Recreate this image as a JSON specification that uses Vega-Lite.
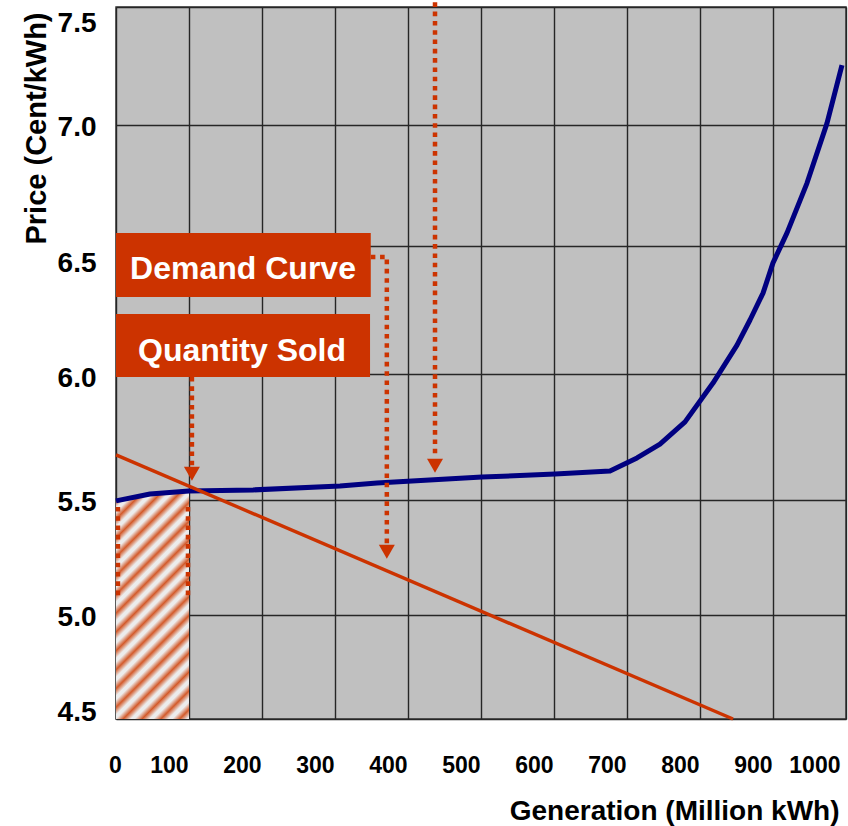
{
  "$schema": "https://vega.github.io/schema/vega-lite/v6.json",
  "width": 730,
  "height": 712,
  "autosize": "none",
  "padding": {"left": 116, "top": 7, "right": 2, "bottom": 107},
  "background": "#FFFFFF",
  "config": {
    "view": {"fill": "#C0C0C0", "stroke": "#3A3A3A", "strokeWidth": 1.5},
    "font": "Liberation Sans"
  },
  "datasets": {
    "supply": [
      {"gen": 0, "price": 5.496},
      {"gen": 46.6, "price": 5.524},
      {"gen": 100, "price": 5.536},
      {"gen": 187.7, "price": 5.54},
      {"gen": 306.8, "price": 5.556},
      {"gen": 357.5, "price": 5.567},
      {"gen": 501.4, "price": 5.591},
      {"gen": 601.4, "price": 5.603},
      {"gen": 676.7, "price": 5.615},
      {"gen": 713.7, "price": 5.667},
      {"gen": 745.2, "price": 5.722},
      {"gen": 779.5, "price": 5.81},
      {"gen": 817.8, "price": 5.964},
      {"gen": 850.7, "price": 6.113},
      {"gen": 868.5, "price": 6.211},
      {"gen": 886.3, "price": 6.316},
      {"gen": 900, "price": 6.434},
      {"gen": 919.2, "price": 6.554},
      {"gen": 946.6, "price": 6.76},
      {"gen": 974, "price": 7.008},
      {"gen": 994.5, "price": 7.254}
    ],
    "demand": [
      {"gen": 0, "price": 5.679},
      {"gen": 845.2, "price": 4.5}
    ],
    "sold": [
      {"gen": 0, "price": 5.496},
      {"gen": 46.6, "price": 5.524},
      {"gen": 100, "price": 5.536}
    ],
    "guides": [
      {"seg": "a", "gen": 437, "price": 7.52},
      {"seg": "a", "gen": 437, "price": 5.667},
      {"seg": "b", "gen": 349, "price": 6.457},
      {"seg": "b", "gen": 371, "price": 6.457},
      {"seg": "b", "gen": 371, "price": 5.296},
      {"seg": "c", "gen": 104, "price": 5.988},
      {"seg": "c", "gen": 104, "price": 5.635},
      {"seg": "d", "gen": 2.7, "price": 5.47},
      {"seg": "d", "gen": 2.7, "price": 5.065},
      {"seg": "e", "gen": 98.6, "price": 5.47},
      {"seg": "e", "gen": 98.6, "price": 5.065}
    ],
    "arrows": [
      {"gen": 437, "price": 5.636},
      {"gen": 371, "price": 5.275},
      {"gen": 104, "price": 5.604}
    ],
    "boxes": [
      {"label": "Demand Curve", "gen": 0, "gen2": 349, "price": 6.554, "price2": 6.301, "textGen": 174, "textPrice": 6.371},
      {"label": "Quantity Sold", "gen": 0, "gen2": 348, "price": 6.234, "price2": 5.988, "textGen": 172.6, "textPrice": 6.051}
    ]
  },
  "encoding": {
    "x": {
      "field": "gen",
      "type": "quantitative",
      "scale": {"domain": [0, 1000], "nice": false, "zero": false},
      "axis": {
        "values": [0, 100, 200, 300, 400, 500, 600, 700, 800, 900, 1000],
        "format": "d",
        "title": "Generation (Million kWh)",
        "grid": true,
        "gridColor": "#262626",
        "gridWidth": 1.4,
        "domain": false,
        "ticks": false,
        "labelFont": "Liberation Sans",
        "labelFontSize": 23,
        "labelFontWeight": "bold",
        "labelColor": "#000000",
        "labelPadding": 35,
        "labelFlush": false,
        "labelOverlap": false,
        "labelAlign": {"condition": {"test": "datum.value === 0", "value": "center"}, "value": "right"},
        "labelOffset": {"condition": {"test": "datum.value === 1000", "value": -6}, "value": -1},
        "titleFont": "Liberation Sans",
        "titleFontSize": 28,
        "titleFontWeight": "bold",
        "titleColor": "#000000",
        "titleAnchor": "end",
        "titleAlign": "right",
        "titleBaseline": "alphabetic",
        "titleX": 723,
        "titleY": 100
      }
    },
    "y": {
      "field": "price",
      "type": "quantitative",
      "scale": {
        "domain": [4.5, 5, 5.5, 6, 6.5, 7, 7.5],
        "range": [712, 608, 493, 367, 239, 118, 0]
      },
      "axis": {
        "values": [4.5, 5, 5.5, 6, 6.5, 7, 7.5],
        "format": ".1f",
        "title": "Price (Cent/kWh)",
        "grid": true,
        "gridColor": "#262626",
        "gridWidth": 1.4,
        "domain": false,
        "ticks": false,
        "labelFont": "Liberation Sans",
        "labelFontSize": 28,
        "labelFontWeight": "bold",
        "labelColor": "#000000",
        "labelPadding": 20,
        "labelFlush": false,
        "labelOverlap": false,
        "labelOffset": {
          "condition": [
            {"test": "datum.value === 7.5", "value": 16},
            {"test": "datum.value === 6.5", "value": 17},
            {"test": "datum.value === 6", "value": 4},
            {"test": "datum.value === 4.5", "value": -7}
          ],
          "value": 2
        },
        "titleFont": "Liberation Sans",
        "titleFontSize": 29,
        "titleFontWeight": "bold",
        "titleColor": "#000000",
        "titleAnchor": "end",
        "titleAlign": "right",
        "titleBaseline": "middle",
        "titleX": -80,
        "titleY": 5
      }
    }
  },
  "layer": [
    {
      "data": {"name": "sold"},
      "mark": {
        "type": "area",
        "fill": {
          "gradient": "linear",
          "x1": 0, "y1": 0, "x2": 0.3834, "y2": 1.1974,
          "stops": [
            {"offset": 0.00625, "color": "#ECECEC"}, {"offset": 0.03125, "color": "#D35A2A"}, {"offset": 0.05625, "color": "#ECECEC"},
            {"offset": 0.06875, "color": "#ECECEC"}, {"offset": 0.09375, "color": "#D35A2A"}, {"offset": 0.11875, "color": "#ECECEC"},
            {"offset": 0.13125, "color": "#ECECEC"}, {"offset": 0.15625, "color": "#D35A2A"}, {"offset": 0.18125, "color": "#ECECEC"},
            {"offset": 0.19375, "color": "#ECECEC"}, {"offset": 0.21875, "color": "#D35A2A"}, {"offset": 0.24375, "color": "#ECECEC"},
            {"offset": 0.25625, "color": "#ECECEC"}, {"offset": 0.28125, "color": "#D35A2A"}, {"offset": 0.30625, "color": "#ECECEC"},
            {"offset": 0.31875, "color": "#ECECEC"}, {"offset": 0.34375, "color": "#D35A2A"}, {"offset": 0.36875, "color": "#ECECEC"},
            {"offset": 0.38125, "color": "#ECECEC"}, {"offset": 0.40625, "color": "#D35A2A"}, {"offset": 0.43125, "color": "#ECECEC"},
            {"offset": 0.44375, "color": "#ECECEC"}, {"offset": 0.46875, "color": "#D35A2A"}, {"offset": 0.49375, "color": "#ECECEC"},
            {"offset": 0.50625, "color": "#ECECEC"}, {"offset": 0.53125, "color": "#D35A2A"}, {"offset": 0.55625, "color": "#ECECEC"},
            {"offset": 0.56875, "color": "#ECECEC"}, {"offset": 0.59375, "color": "#D35A2A"}, {"offset": 0.61875, "color": "#ECECEC"},
            {"offset": 0.63125, "color": "#ECECEC"}, {"offset": 0.65625, "color": "#D35A2A"}, {"offset": 0.68125, "color": "#ECECEC"},
            {"offset": 0.69375, "color": "#ECECEC"}, {"offset": 0.71875, "color": "#D35A2A"}, {"offset": 0.74375, "color": "#ECECEC"},
            {"offset": 0.75625, "color": "#ECECEC"}, {"offset": 0.78125, "color": "#D35A2A"}, {"offset": 0.80625, "color": "#ECECEC"},
            {"offset": 0.81875, "color": "#ECECEC"}, {"offset": 0.84375, "color": "#D35A2A"}, {"offset": 0.86875, "color": "#ECECEC"},
            {"offset": 0.88125, "color": "#ECECEC"}, {"offset": 0.90625, "color": "#D35A2A"}, {"offset": 0.93125, "color": "#ECECEC"},
            {"offset": 0.94375, "color": "#ECECEC"}, {"offset": 0.96875, "color": "#D35A2A"}, {"offset": 0.99375, "color": "#ECECEC"}
          ]
        },
        "opacity": 1
      },
      "encoding": {
        "y2": {"datum": 4.5}
      }
    },
    {
      "data": {"name": "supply"},
      "mark": {"type": "line", "color": "#000080", "strokeWidth": 5, "strokeJoin": "round"},
      "encoding": {}
    },
    {
      "data": {"name": "demand"},
      "mark": {"type": "line", "color": "#CC3300", "strokeWidth": 3.4},
      "encoding": {}
    },
    {
      "data": {"name": "guides"},
      "mark": {"type": "line", "color": "#CC3300", "strokeWidth": 4.5, "strokeDash": [4.6, 4.7], "strokeCap": "butt"},
      "encoding": {"detail": {"field": "seg"}}
    },
    {
      "data": {"name": "arrows"},
      "mark": {"type": "point", "shape": "triangle-down", "filled": true, "size": 256, "color": "#CC3300", "opacity": 1},
      "encoding": {}
    },
    {
      "data": {"name": "boxes"},
      "mark": {"type": "rect", "color": "#CC3300"},
      "encoding": {
        "x2": {"field": "gen2"},
        "y2": {"field": "price2"}
      }
    },
    {
      "data": {"name": "boxes"},
      "mark": {"type": "text", "color": "#FFFFFF", "font": "Liberation Sans", "fontSize": 32, "fontWeight": "bold", "align": "center", "baseline": "alphabetic"},
      "encoding": {
        "x": {"field": "textGen", "type": "quantitative"},
        "y": {"field": "textPrice", "type": "quantitative"},
        "text": {"field": "label"}
      }
    }
  ]
}
